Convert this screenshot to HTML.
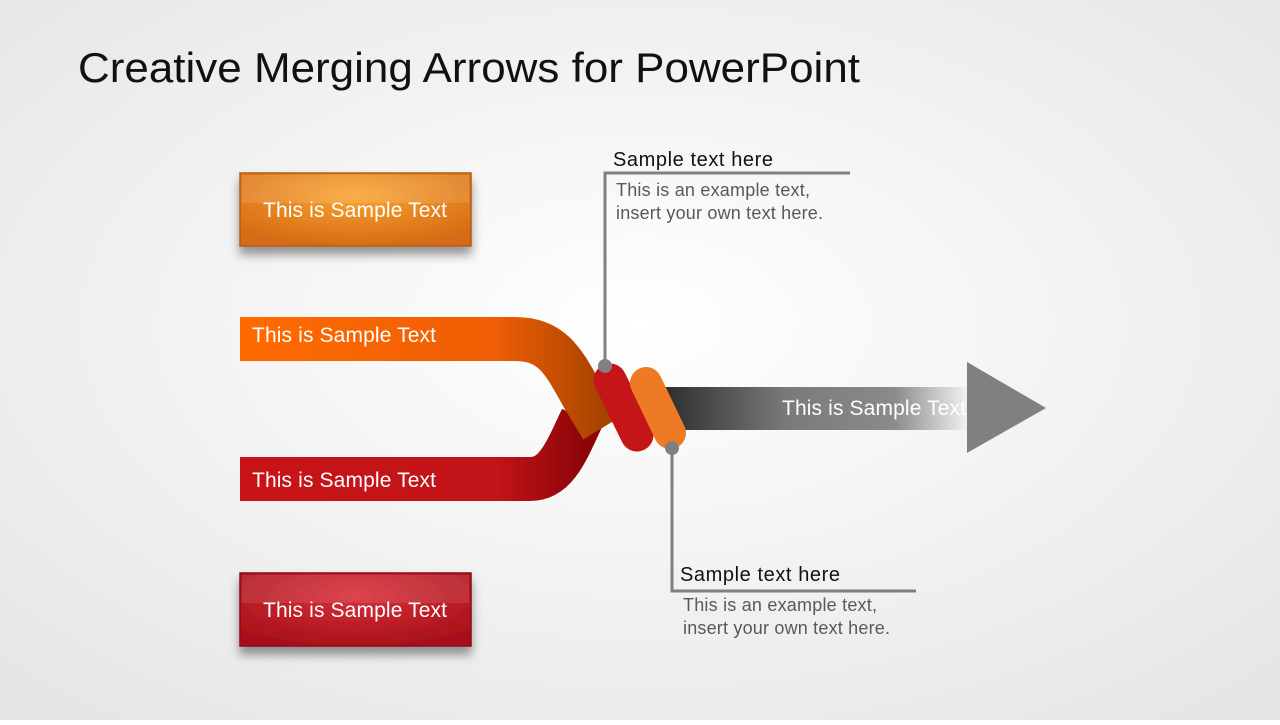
<!DOCTYPE html>
<html><head><meta charset="utf-8"><style>
body{margin:0;width:1280px;height:720px;overflow:hidden;font-family:"Liberation Sans",sans-serif}
</style></head><body>
<svg width="1280" height="720" xmlns="http://www.w3.org/2000/svg" font-family="Liberation Sans, sans-serif">
<defs>
<radialGradient id="bg" cx="50%" cy="45%" r="75%"><stop offset="0" stop-color="#ffffff"/><stop offset="1" stop-color="#e4e4e4"/></radialGradient>
<radialGradient id="ob" cx="50%" cy="30%" r="70%"><stop offset="0" stop-color="#f9a431"/><stop offset="1" stop-color="#d66b14"/></radialGradient>
<radialGradient id="rb" cx="50%" cy="30%" r="70%"><stop offset="0" stop-color="#d8303a"/><stop offset="1" stop-color="#a8111a"/></radialGradient>
<linearGradient id="ar" x1="0" x2="1"><stop offset="0" stop-color="#2e2e2e"/><stop offset="0.4" stop-color="#7a7a7a"/><stop offset="0.75" stop-color="#8a8a8a"/><stop offset="1" stop-color="#8a8a8a" stop-opacity="0"/></linearGradient>
<linearGradient id="og" x1="0" x2="1"><stop offset="0" stop-color="#ff6a00"/><stop offset="0.7" stop-color="#f05e05"/><stop offset="1" stop-color="#a84300"/></linearGradient>
<linearGradient id="rg" x1="0" x2="1"><stop offset="0" stop-color="#c81418"/><stop offset="0.75" stop-color="#c01418"/><stop offset="1" stop-color="#8e0508"/></linearGradient>
<filter id="sh" x="-20%" y="-20%" width="140%" height="160%"><feDropShadow dx="0" dy="8" stdDeviation="5" flood-opacity="0.4"/></filter>
</defs>
<rect width="1280" height="720" fill="url(#bg)"/>
<text x="78" y="82" font-size="42" fill="#111" textLength="782" lengthAdjust="spacingAndGlyphs">Creative Merging Arrows for PowerPoint</text>

<rect x="240" y="173" width="231" height="73" fill="url(#ob)" stroke="#b45a10" stroke-width="1.5" filter="url(#sh)"/>
<rect x="242" y="175" width="227" height="28" fill="#fff" opacity="0.12"/>
<text x="355" y="217" font-size="21" fill="#fff" text-anchor="middle" textLength="184">This is Sample Text</text>
<rect x="240" y="573" width="231" height="73" fill="url(#rb)" stroke="#8a0c12" stroke-width="1.5" filter="url(#sh)"/>
<rect x="242" y="575" width="227" height="28" fill="#fff" opacity="0.1"/>
<text x="355" y="617" font-size="21" fill="#fff" text-anchor="middle" textLength="184">This is Sample Text</text>

<rect x="665" y="387" width="305" height="43" fill="url(#ar)"/>
<polygon points="967,362 1046,408 967,453" fill="#808080"/>
<text x="782" y="415" font-size="21" fill="#fff" textLength="184">This is Sample Text</text>

<path d="M240,479 L530,479 C555,479 565,455 582,418" fill="none" stroke="url(#rg)" stroke-width="44"/>
<path d="M240,339 L515,339 C555,339 565,365 585,400 L602,428" fill="none" stroke="url(#og)" stroke-width="44"/>
<text x="252" y="342" font-size="21" fill="#fff" textLength="184">This is Sample Text</text>
<text x="252" y="487" font-size="21" fill="#fff" textLength="184">This is Sample Text</text>

<line x1="610" y1="380" x2="637" y2="435" stroke="#c41518" stroke-width="33" stroke-linecap="round"/>
<line x1="646" y1="383" x2="670" y2="433" stroke="#ee7a25" stroke-width="32" stroke-linecap="round"/>

<g stroke="#808080" stroke-width="3" fill="none">
<polyline points="605,366 605,173 850,173"/>
<polyline points="672,448 672,591 916,591"/>
</g>
<circle cx="605" cy="366" r="7" fill="#808080"/>
<circle cx="672" cy="448" r="7" fill="#808080"/>
<text x="613" y="166" font-size="20" fill="#111" textLength="160">Sample text here</text>
<text x="616" y="196" font-size="18" fill="#595959" textLength="194">This is an example text,</text>
<text x="616" y="219" font-size="18" fill="#595959" textLength="207">insert your own text here.</text>
<text x="680" y="581" font-size="20" fill="#111" textLength="160">Sample text here</text>
<text x="683" y="611" font-size="18" fill="#595959" textLength="194">This is an example text,</text>
<text x="683" y="634" font-size="18" fill="#595959" textLength="207">insert your own text here.</text>
</svg>
</body></html>
